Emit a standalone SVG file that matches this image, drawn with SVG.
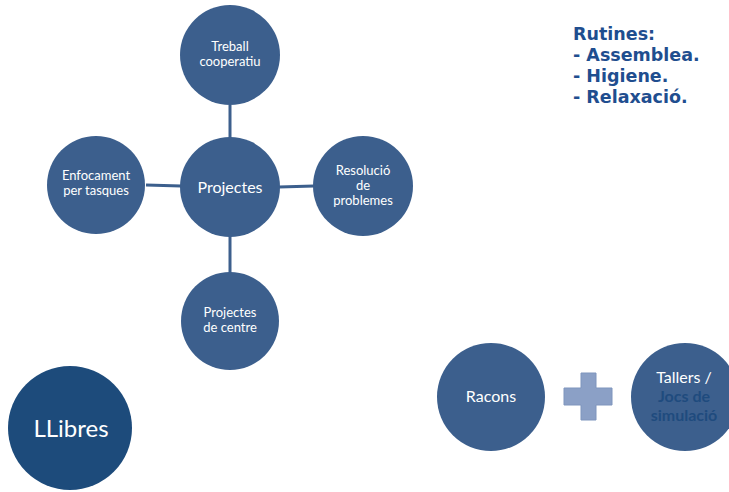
<svg xmlns="http://www.w3.org/2000/svg" width="729" height="492" viewBox="0 0 729 492">
<style>
.c{fill:#3C5F8D;}
.dk{fill:#1D4B7B;}
.t{font-family:Lato,"Open Sans","Liberation Sans",sans-serif;fill:#FFFFFF;text-anchor:middle;font-size:13px;}
.b{font-weight:bold;fill:#1F4B7E;}
.r{font-family:"DejaVu Sans","Liberation Sans",sans-serif;font-weight:bold;fill:#1F4E8F;font-size:17.5px;}
.ln{stroke:#3C5F8D;stroke-width:3;fill:none;}
</style>
<rect width="729" height="492" fill="#FFFFFF"/>
<g id="connectors">
<line class="ln" x1="230" y1="105" x2="230" y2="138"/>
<line class="ln" x1="146" y1="185" x2="181" y2="186"/>
<line class="ln" x1="279" y1="187" x2="314" y2="186"/>
<line class="ln" x1="230" y1="236" x2="230" y2="273"/>
</g>
<g id="treball">
<circle class="c" cx="230" cy="55" r="50"/>
<text class="t" x="230" y="51">Treball</text>
<text class="t" x="230" y="66">cooperatiu</text>
</g>
<g id="projectes">
<circle class="c" cx="230" cy="187" r="50"/>
<text class="t" x="230" y="193" style="font-size:16px">Projectes</text>
</g>
<g id="enfocament">
<circle class="c" cx="96" cy="185" r="49"/>
<text class="t" x="96" y="180">Enfocament</text>
<text class="t" x="96" y="195">per tasques</text>
</g>
<g id="resolucio">
<circle class="c" cx="363" cy="186" r="50"/>
<text class="t" x="363" y="175">Resolució</text>
<text class="t" x="363" y="190">de</text>
<text class="t" x="363" y="205">problemes</text>
</g>
<g id="projectes-centre">
<circle class="c" cx="230" cy="321" r="49"/>
<text class="t" x="230" y="317">Projectes</text>
<text class="t" x="230" y="332">de centre</text>
</g>
<g id="llibres">
<circle class="dk" cx="70" cy="428" r="62"/>
<text class="t" x="71" y="437" style="font-size:24px">LLibres</text>
</g>
<g id="racons">
<circle class="c" cx="491" cy="397" r="54"/>
<text class="t" x="491" y="402" style="font-size:16px">Racons</text>
</g>
<g id="plus">
<path d="M581,373 H596 V388 H612 V405 H596 V420 H581 V405 H564 V388 H581 Z" fill="#8BA0C6" stroke="#7F95BD" stroke-width="1"/>
</g>
<g id="tallers">
<circle class="c" cx="685" cy="397" r="54"/>
<text class="t" x="684" y="383" style="font-size:16px">Tallers /</text>
<text class="t b" x="684" y="402" style="font-size:16px">Jocs de</text>
<text class="t b" x="684" y="421" style="font-size:16px">simulació</text>
</g>
<g id="rutines">
<text class="r" x="573" y="40">Rutines:</text>
<text class="r" x="573" y="61">- Assemblea.</text>
<text class="r" x="573" y="82">- Higiene.</text>
<text class="r" x="573" y="103">- Relaxació.</text>
</g>
</svg>
